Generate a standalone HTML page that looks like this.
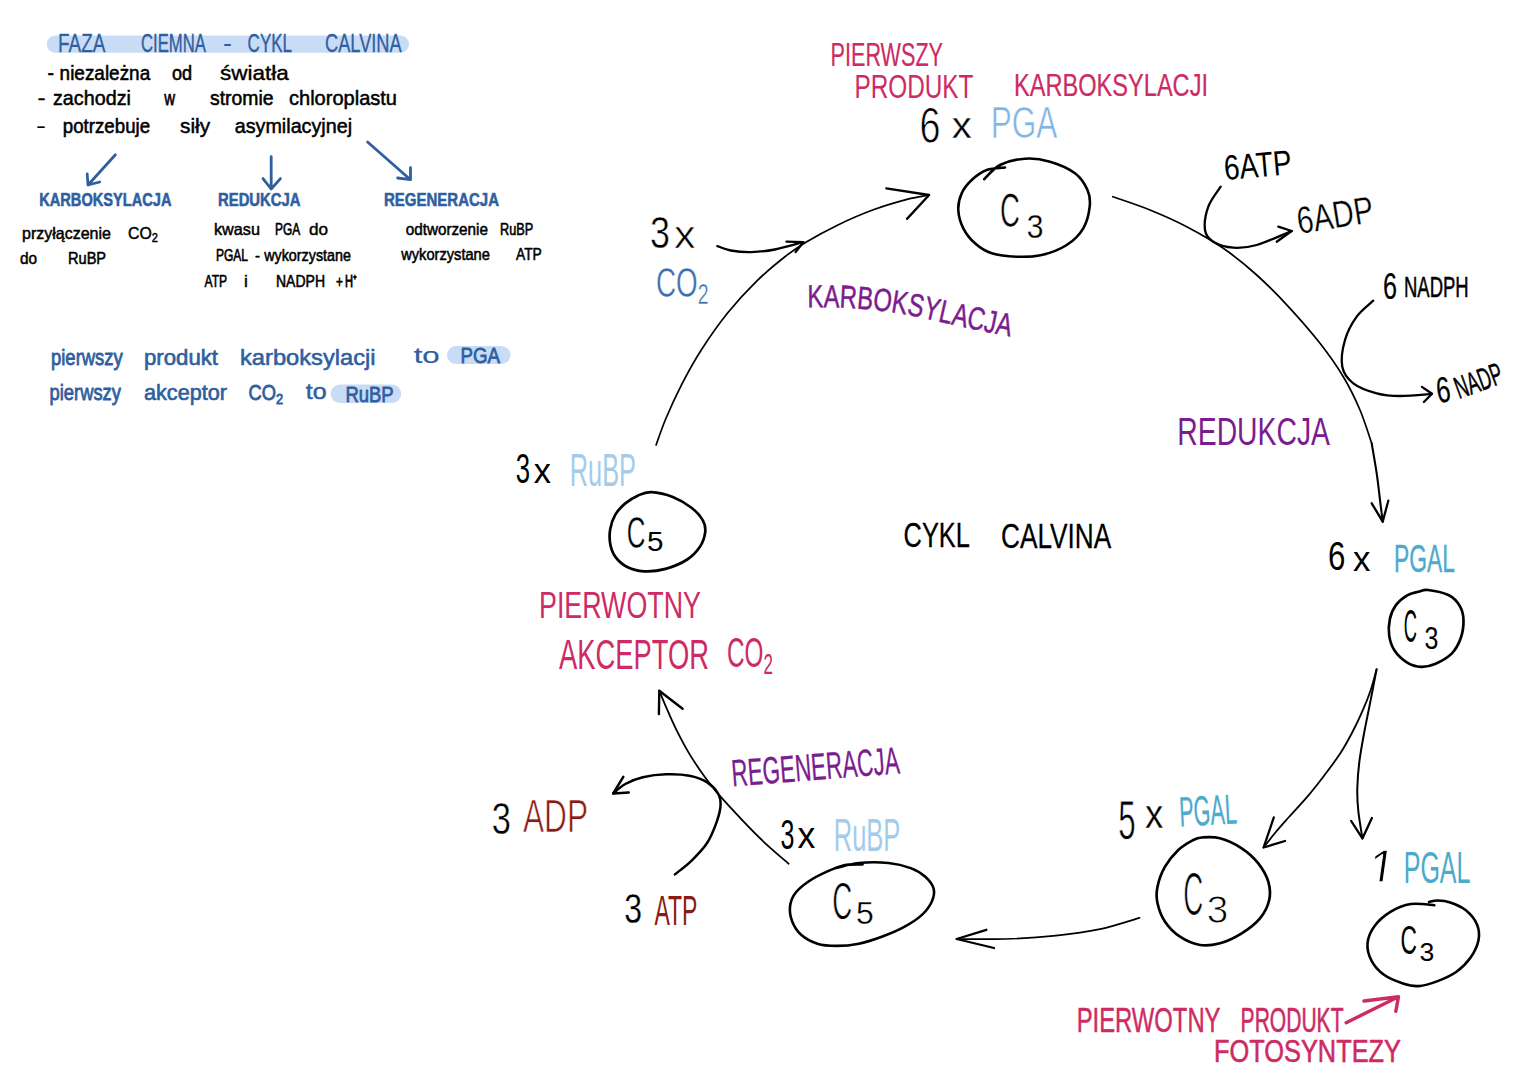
<!DOCTYPE html>
<html lang="pl"><head><meta charset="utf-8"><title>Faza ciemna - cykl Calvina</title>
<style>
html,body{margin:0;padding:0;background:#fff;}
body{width:1528px;height:1080px;overflow:hidden;}
svg{display:block;font-family:"Liberation Sans",sans-serif;}
svg path{fill:none;stroke-linecap:round;stroke-linejoin:round;}
svg text{stroke-linejoin:round;}
</style></head><body>
<svg width="1528" height="1080" viewBox="0 0 1528 1080">
<rect x="46.8" y="35.5" width="362.2" height="17.3" rx="8.6" fill="#c9dcf5"/>
<text x="58.0" y="52.0" font-size="25.5" fill="#2f5f9f" textLength="47.5" lengthAdjust="spacingAndGlyphs" stroke="#2f5f9f" stroke-width="0.28">FAZA</text>
<text x="141.0" y="52.0" font-size="25.5" fill="#2f5f9f" textLength="64.9" lengthAdjust="spacingAndGlyphs" stroke="#2f5f9f" stroke-width="0.39">CIEMNA</text>
<text x="223.0" y="52.0" font-size="25.5" fill="#2f5f9f" textLength="9.0" lengthAdjust="spacingAndGlyphs">-</text>
<text x="247.6" y="52.0" font-size="25.5" fill="#2f5f9f" textLength="44.5" lengthAdjust="spacingAndGlyphs" stroke="#2f5f9f" stroke-width="0.37">CYKL</text>
<text x="325.0" y="52.0" font-size="25.5" fill="#2f5f9f" textLength="76.7" lengthAdjust="spacingAndGlyphs" stroke="#2f5f9f" stroke-width="0.32">CALVINA</text>
<text x="47.5" y="80.0" font-size="21" fill="#000" textLength="6.5" lengthAdjust="spacingAndGlyphs" stroke="#000" stroke-width="0.54">-</text>
<text x="59.6" y="80.0" font-size="21" fill="#000" textLength="90.6" lengthAdjust="spacingAndGlyphs" stroke="#000" stroke-width="0.57">niezależna</text>
<text x="172.0" y="80.0" font-size="21" fill="#000" textLength="20.1" lengthAdjust="spacingAndGlyphs" stroke="#000" stroke-width="0.61">od</text>
<text x="220.0" y="80.0" font-size="21" fill="#000" textLength="68.9" lengthAdjust="spacingAndGlyphs" stroke="#000" stroke-width="0.40">światła</text>
<text x="37.4" y="105.0" font-size="21" fill="#000" textLength="8.1" lengthAdjust="spacingAndGlyphs" stroke="#000" stroke-width="0.32">-</text>
<text x="53.0" y="105.0" font-size="21" fill="#000" textLength="77.9" lengthAdjust="spacingAndGlyphs" stroke="#000" stroke-width="0.53">zachodzi</text>
<text x="164.2" y="105.0" font-size="21" fill="#000" textLength="10.8" lengthAdjust="spacingAndGlyphs" stroke="#000" stroke-width="0.75">w</text>
<text x="210.0" y="105.0" font-size="21" fill="#000" textLength="63.6" lengthAdjust="spacingAndGlyphs" stroke="#000" stroke-width="0.55">stromie</text>
<text x="289.0" y="105.0" font-size="21" fill="#000" textLength="108.0" lengthAdjust="spacingAndGlyphs" stroke="#000" stroke-width="0.52">chloroplastu</text>
<text x="36.0" y="133.3" font-size="21" fill="#000" textLength="10.0" lengthAdjust="spacingAndGlyphs">-</text>
<text x="62.8" y="133.3" font-size="21" fill="#000" textLength="87.3" lengthAdjust="spacingAndGlyphs" stroke="#000" stroke-width="0.58">potrzebuje</text>
<text x="180.0" y="133.3" font-size="21" fill="#000" textLength="30.1" lengthAdjust="spacingAndGlyphs" stroke="#000" stroke-width="0.48">siły</text>
<text x="234.7" y="133.3" font-size="21" fill="#000" textLength="117.4" lengthAdjust="spacingAndGlyphs" stroke="#000" stroke-width="0.53">asymilacyjnej</text>
<path d="M115.4 154.8 L88 185 M87.2 174 L88 185 L99.7 182" stroke="#2f5f9f" stroke-width="2.8"/>
<path d="M271.2 156.6 L271.2 189 M263 178.6 L271.2 189 L280.4 178.6" stroke="#2f5f9f" stroke-width="2.8"/>
<path d="M367.6 142 L410.5 179.7 M410.5 167.6 L410.5 179.7 L397.6 178" stroke="#2f5f9f" stroke-width="2.8"/>
<text x="39.2" y="206.0" font-size="18" fill="#2f5f9f" textLength="132.3" lengthAdjust="spacingAndGlyphs" font-weight="bold" stroke="#2f5f9f" stroke-width="0.58">KARBOKSYLACJA</text>
<text x="218.0" y="206.0" font-size="18" fill="#2f5f9f" textLength="82.5" lengthAdjust="spacingAndGlyphs" font-weight="bold" stroke="#2f5f9f" stroke-width="0.56">REDUKCJA</text>
<text x="384.0" y="206.0" font-size="18" fill="#2f5f9f" textLength="115.0" lengthAdjust="spacingAndGlyphs" font-weight="bold" stroke="#2f5f9f" stroke-width="0.55">REGENERACJA</text>
<text x="22.0" y="239.0" font-size="16.5" fill="#000" textLength="89.0" lengthAdjust="spacingAndGlyphs" stroke="#000" stroke-width="0.49">przyłączenie</text>
<text x="20.0" y="263.5" font-size="16.5" fill="#000" textLength="17.1" lengthAdjust="spacingAndGlyphs" stroke="#000" stroke-width="0.52">do</text>
<text x="68.0" y="263.5" font-size="16.5" fill="#000" textLength="38.1" lengthAdjust="spacingAndGlyphs" stroke="#000" stroke-width="0.55">RuBP</text>
<text x="214.0" y="235.0" font-size="16.5" fill="#000" textLength="46.0" lengthAdjust="spacingAndGlyphs" stroke="#000" stroke-width="0.48">kwasu</text>
<text x="275.0" y="235.0" font-size="16.5" fill="#000" textLength="25.1" lengthAdjust="spacingAndGlyphs" stroke="#000" stroke-width="0.68">PGA</text>
<text x="309.0" y="235.0" font-size="16.5" fill="#000" textLength="19.1" lengthAdjust="spacingAndGlyphs" stroke="#000" stroke-width="0.43">do</text>
<text x="216.0" y="261.0" font-size="16.5" fill="#000" textLength="32.0" lengthAdjust="spacingAndGlyphs" stroke="#000" stroke-width="0.67">PGAL</text>
<text x="255.0" y="261.0" font-size="16.5" fill="#000" textLength="5.0" lengthAdjust="spacingAndGlyphs" stroke="#000" stroke-width="0.53">-</text>
<text x="264.2" y="261.0" font-size="16.5" fill="#000" textLength="86.7" lengthAdjust="spacingAndGlyphs" stroke="#000" stroke-width="0.56">wykorzystane</text>
<text x="204.5" y="286.5" font-size="16.5" fill="#000" textLength="22.6" lengthAdjust="spacingAndGlyphs" stroke="#000" stroke-width="0.67">ATP</text>
<text x="244.0" y="286.5" font-size="16.5" fill="#000" textLength="3.9" lengthAdjust="spacingAndGlyphs" stroke="#000" stroke-width="0.41">i</text>
<text x="276.0" y="286.5" font-size="16.5" fill="#000" textLength="49.0" lengthAdjust="spacingAndGlyphs" stroke="#000" stroke-width="0.58">NADPH</text>
<text x="336.0" y="286.5" font-size="16.5" fill="#000" textLength="6.9" lengthAdjust="spacingAndGlyphs" stroke="#000" stroke-width="0.68">+</text>
<text x="345.0" y="286.5" font-size="16.5" fill="#000" textLength="12.0" lengthAdjust="spacingAndGlyphs" stroke="#000" stroke-width="0.85">H⁺</text>
<text x="405.7" y="235.0" font-size="16.5" fill="#000" textLength="82.3" lengthAdjust="spacingAndGlyphs" stroke="#000" stroke-width="0.52">odtworzenie</text>
<text x="500.0" y="235.0" font-size="16.5" fill="#000" textLength="33.1" lengthAdjust="spacingAndGlyphs" stroke="#000" stroke-width="0.64">RuBP</text>
<text x="401.2" y="259.5" font-size="16.5" fill="#000" textLength="88.7" lengthAdjust="spacingAndGlyphs" stroke="#000" stroke-width="0.55">wykorzystane</text>
<text x="516.0" y="259.5" font-size="16.5" fill="#000" textLength="25.8" lengthAdjust="spacingAndGlyphs" stroke="#000" stroke-width="0.59">ATP</text>
<text x="128.0" y="239.0" font-size="17" fill="#000" textLength="29.9" lengthAdjust="spacingAndGlyphs" stroke="#000" stroke-width="0.48">CO<tspan dy="2.7" font-size="11.9">2</tspan></text>
<rect x="447" y="346" width="63.5" height="18.0" rx="9.0" fill="#c9dcf5"/>
<rect x="330.6" y="384.6" width="70.7" height="18.4" rx="9.2" fill="#c9dcf5"/>
<text x="51.0" y="364.5" font-size="22.5" fill="#2f5f9f" textLength="71.8" lengthAdjust="spacingAndGlyphs" stroke="#2f5f9f" stroke-width="0.83">pierwszy</text>
<text x="144.0" y="364.5" font-size="22.5" fill="#2f5f9f" textLength="74.0" lengthAdjust="spacingAndGlyphs" stroke="#2f5f9f" stroke-width="0.66">produkt</text>
<text x="240.0" y="364.5" font-size="22.5" fill="#2f5f9f" textLength="135.6" lengthAdjust="spacingAndGlyphs" stroke="#2f5f9f" stroke-width="0.59">karboksylacji</text>
<text x="413.7" y="362.5" font-size="22.5" fill="#2f5f9f" textLength="26.0" lengthAdjust="spacingAndGlyphs" stroke="#2f5f9f" stroke-width="0.24">to</text>
<text x="460.5" y="362.5" font-size="22.5" fill="#2f5f9f" textLength="39.5" lengthAdjust="spacingAndGlyphs" stroke="#2f5f9f" stroke-width="0.82">PGA</text>
<text x="49.5" y="399.5" font-size="22.5" fill="#2f5f9f" textLength="71.5" lengthAdjust="spacingAndGlyphs" stroke="#2f5f9f" stroke-width="0.83">pierwszy</text>
<text x="144.0" y="399.5" font-size="22.5" fill="#2f5f9f" textLength="83.0" lengthAdjust="spacingAndGlyphs" stroke="#2f5f9f" stroke-width="0.68">akceptor</text>
<text x="305.8" y="398.5" font-size="22.5" fill="#2f5f9f" textLength="20.8" lengthAdjust="spacingAndGlyphs" stroke="#2f5f9f" stroke-width="0.53">to</text>
<text x="345.4" y="401.7" font-size="22.5" fill="#2f5f9f" textLength="48.2" lengthAdjust="spacingAndGlyphs" stroke="#2f5f9f" stroke-width="0.83">RuBP</text>
<text x="248.5" y="400.0" font-size="22" fill="#2f5f9f" textLength="34.6" lengthAdjust="spacingAndGlyphs" stroke="#2f5f9f" stroke-width="0.86">CO<tspan dy="3.5" font-size="15.4">2</tspan></text>
<text x="830.6" y="66.0" font-size="34" fill="#cd2b63" textLength="112.4" lengthAdjust="spacingAndGlyphs" stroke="#cd2b63" stroke-width="0.21">PIERWSZY</text>
<text x="854.4" y="97.5" font-size="34" fill="#cd2b63" textLength="119.1" lengthAdjust="spacingAndGlyphs">PRODUKT</text>
<text x="1014.0" y="96.0" font-size="31" fill="#cd2b63" textLength="194.0" lengthAdjust="spacingAndGlyphs" stroke="#cd2b63" stroke-width="0.24">KARBOKSYLACJI</text>
<text x="919.5" y="143.3" font-size="50" fill="#000" textLength="21.0" lengthAdjust="spacingAndGlyphs" stroke="#fff" stroke-width="0.81">6</text>
<text x="951.7" y="138.3" font-size="37" fill="#000" textLength="20.0" lengthAdjust="spacingAndGlyphs" stroke="#fff" stroke-width="0.36">x</text>
<text x="990.8" y="138.3" font-size="44" fill="#7fb4e6" textLength="66.6" lengthAdjust="spacingAndGlyphs" stroke="#fff" stroke-width="0.66">PGA</text>
<path d="M984.2 179.2 C986.8 176.8 993.2 168.4 1000.0 165.0 C1006.8 161.6 1016.7 159.2 1025.0 158.7 C1033.3 158.1 1041.7 159.3 1050.0 161.7 C1058.3 164.1 1068.8 168.6 1075.0 173.3 C1081.2 178.0 1085.0 184.4 1087.5 190.0 C1090.0 195.6 1090.4 200.3 1089.7 206.7 C1089.0 213.1 1087.1 221.9 1083.3 228.3 C1079.5 234.7 1073.6 240.6 1066.7 245.0 C1059.8 249.4 1050.0 253.1 1041.7 255.0 C1033.4 256.9 1025.0 257.0 1016.7 256.7 C1008.4 256.4 998.7 255.5 991.7 253.3 C984.8 251.1 979.7 247.5 975.0 243.3 C970.3 239.1 966.1 233.9 963.3 228.3 C960.5 222.8 958.6 215.8 958.3 210.0 C958.0 204.2 959.5 198.3 961.7 193.3 C963.9 188.3 967.5 183.9 971.7 180.0 C975.9 176.1 981.2 172.1 986.7 170.0 C992.2 167.9 1002.0 167.9 1005.0 167.5" stroke="#000" stroke-width="2.6"/>
<text x="1000.0" y="226.7" font-size="49" fill="#000" textLength="19.9" lengthAdjust="spacingAndGlyphs" stroke="#fff" stroke-width="0.68">C</text>
<text x="1026.7" y="237.5" font-size="33" fill="#000" textLength="16.7" lengthAdjust="spacingAndGlyphs" stroke="#fff" stroke-width="0.26">3</text>
<path d="M656.1 445.0 C657.7 440.6 661.7 428.5 665.9 418.5 C670.1 408.5 675.5 396.5 681.5 384.8 C687.5 373.1 694.4 360.6 702.2 348.5 C710.0 336.4 719.1 323.4 728.2 312.2 C737.3 301.0 747.2 290.4 756.7 281.1 C766.2 271.8 777.0 263.0 785.2 256.5 C793.4 250.0 797.3 247.4 805.9 242.2 C814.5 237.0 825.8 230.8 837.0 225.4 C848.2 220.0 861.6 214.1 873.3 209.8 C885.0 205.5 897.7 201.9 907.0 199.4 C916.3 196.9 925.4 195.7 929.1 195.0" stroke="#000" stroke-width="1.7"/>
<path d="M886.3 188.3 L929.1 195 L907 218.9" stroke="#000" stroke-width="2.3"/>
<text x="650.0" y="248.0" font-size="44" fill="#000" textLength="20.0" lengthAdjust="spacingAndGlyphs" stroke="#fff" stroke-width="0.51">3</text>
<text x="674.0" y="248.0" font-size="38" fill="#000" textLength="21.5" lengthAdjust="spacingAndGlyphs" stroke="#fff" stroke-width="0.54">x</text>
<text x="656.0" y="297.0" font-size="43" fill="#3a70ad" textLength="52.6" lengthAdjust="spacingAndGlyphs" stroke="#fff" stroke-width="0.44">CO<tspan dy="6.9" font-size="30.1">2</tspan></text>
<path d="M717.3 246.1 C719.5 246.8 725.0 249.5 730.7 250.5 C736.4 251.5 744.1 252.3 751.5 252.1 C758.9 251.9 766.2 251.2 774.8 249.5 C783.4 247.8 798.5 243.4 803.3 242.2" stroke="#000" stroke-width="2.3"/>
<path d="M786.5 241.7 L803.3 242.2 L795.6 252" stroke="#000" stroke-width="2.3"/>
<defs><path id="kp" d="M807.5 307.3 Q870 306 925 318.5 T1012 337"/></defs>
<text font-size="32" fill="#7b1d8e" stroke="#7b1d8e" stroke-width="0.5"><textPath href="#kp" textLength="205" lengthAdjust="spacingAndGlyphs">KARBOKSYLACJA</textPath></text>
<path d="M1112.7 196.7 C1118.9 198.9 1137.7 205.0 1150.0 210.0 C1162.3 215.0 1174.5 220.3 1186.7 226.7 C1198.9 233.1 1211.6 240.2 1223.3 248.3 C1235.0 256.4 1245.6 265.0 1256.7 275.0 C1267.8 285.0 1279.5 296.9 1290.0 308.3 C1300.5 319.7 1311.1 331.9 1320.0 343.3 C1328.9 354.7 1336.6 365.6 1343.3 376.7 C1350.0 387.8 1355.3 398.9 1360.0 410.0 C1364.7 421.1 1369.8 437.8 1371.7 443.3" stroke="#000" stroke-width="1.7"/>
<path d="M1371.7 443.3 C1372.5 448.3 1375.3 463.9 1376.7 473.3 C1378.1 482.8 1379.0 491.9 1380.0 500.0 C1381.0 508.1 1382.2 518.1 1382.7 521.7" stroke="#000" stroke-width="2.1"/>
<path d="M1371.7 503.3 L1382.7 521.7 L1388.3 500.7" stroke="#000" stroke-width="2.3"/>
<text x="1225.0" y="180.0" font-size="35" fill="#000" textLength="67.9" lengthAdjust="spacingAndGlyphs" transform="rotate(-5 1225.0 180.0)">6ATP</text>
<path d="M1220.7 186.7 C1218.6 190.0 1210.9 199.5 1208.3 206.7 C1205.7 213.9 1204.2 224.2 1205.0 230.0 C1205.8 235.8 1208.6 238.8 1213.3 241.7 C1218.0 244.6 1226.1 247.1 1233.3 247.7 C1240.5 248.2 1247.0 247.8 1256.7 245.0 C1266.4 242.2 1285.9 233.3 1291.7 231.0" stroke="#000" stroke-width="2.3"/>
<path d="M1278.3 226.7 L1291.7 231 L1276.7 241.7" stroke="#000" stroke-width="2.3"/>
<text x="1299.0" y="234.0" font-size="38" fill="#000" textLength="77.0" lengthAdjust="spacingAndGlyphs" stroke="#fff" stroke-width="0.31" transform="rotate(-9 1299.0 234.0)">6ADP</text>
<text x="1383.0" y="298.5" font-size="36" fill="#000" textLength="14.0" lengthAdjust="spacingAndGlyphs" stroke="#000" stroke-width="0.23">6</text>
<text x="1404.0" y="297.0" font-size="30" fill="#000" textLength="64.7" lengthAdjust="spacingAndGlyphs" stroke="#000" stroke-width="0.52">NADPH</text>
<path d="M1373.3 300.7 C1370.5 303.4 1361.4 310.1 1356.7 316.7 C1352.0 323.2 1347.4 331.7 1345.0 340.0 C1342.6 348.3 1340.9 359.5 1342.3 366.7 C1343.7 373.9 1347.6 378.9 1353.3 383.3 C1359.0 387.7 1368.9 391.2 1376.7 393.3 C1384.5 395.4 1390.8 395.9 1400.0 396.0 C1409.2 396.1 1426.7 394.2 1432.0 393.8" stroke="#000" stroke-width="2.3"/>
<path d="M1421.9 386.9 L1432 393.8 L1423.9 402" stroke="#000" stroke-width="2.3"/>
<text x="1438.0" y="403.0" font-size="36" fill="#000" textLength="14.0" lengthAdjust="spacingAndGlyphs" stroke="#000" stroke-width="0.23" transform="rotate(-8 1438.0 403.0)">6</text>
<text x="1459.0" y="399.0" font-size="31" fill="#000" textLength="48.9" lengthAdjust="spacingAndGlyphs" stroke="#000" stroke-width="0.52" transform="rotate(-20 1459.0 399.0)">NADP</text>
<text x="1177.3" y="445.0" font-size="39" fill="#7b1d8e" textLength="152.7" lengthAdjust="spacingAndGlyphs">REDUKCJA</text>
<text x="903.6" y="547.0" font-size="35" fill="#000" textLength="66.3" lengthAdjust="spacingAndGlyphs" stroke="#000" stroke-width="0.30">CYKL</text>
<text x="1001.0" y="547.5" font-size="35" fill="#000" textLength="110.2" lengthAdjust="spacingAndGlyphs" stroke="#000" stroke-width="0.26">CALVINA</text>
<text x="1328.0" y="570.3" font-size="40" fill="#000" textLength="17.4" lengthAdjust="spacingAndGlyphs">6</text>
<text x="1353.0" y="571.0" font-size="35" fill="#000" textLength="17.4" lengthAdjust="spacingAndGlyphs">x</text>
<text x="1394.0" y="571.5" font-size="38" fill="#4cabcd" textLength="60.9" lengthAdjust="spacingAndGlyphs" stroke="#4cabcd" stroke-width="0.39">PGAL</text>
<path d="M1428.0 590.0 C1433.1 590.6 1443.6 592.6 1448.9 595.3 C1454.2 598.0 1457.6 602.2 1460.0 606.4 C1462.4 610.6 1463.4 615.0 1463.5 620.3 C1463.6 625.6 1462.7 632.8 1460.7 638.3 C1458.7 643.8 1456.0 649.3 1451.7 653.6 C1447.4 657.9 1440.1 661.8 1435.0 664.0 C1429.9 666.2 1425.6 667.0 1421.0 666.8 C1416.4 666.6 1411.6 665.3 1407.2 662.6 C1402.8 659.9 1397.7 655.3 1394.7 650.8 C1391.7 646.3 1390.0 640.9 1389.2 635.6 C1388.4 630.3 1388.8 624.0 1389.9 618.9 C1391.0 613.8 1393.1 608.9 1396.0 605.0 C1398.9 601.1 1403.5 597.5 1407.2 595.3 C1410.9 593.1 1414.8 592.7 1418.3 591.8 C1421.8 590.9 1422.9 589.4 1428.0 590.0" stroke="#000" stroke-width="2.7"/>
<text x="1403.8" y="641.8" font-size="46" fill="#000" textLength="13.2" lengthAdjust="spacingAndGlyphs">C</text>
<text x="1424.6" y="649.4" font-size="32" fill="#000" textLength="13.9" lengthAdjust="spacingAndGlyphs">3</text>
<path d="M1376.6 669.3 C1375.6 672.9 1372.9 683.7 1370.5 690.7 C1368.1 697.7 1365.5 704.1 1362.4 711.1 C1359.4 718.1 1355.9 725.4 1352.2 732.5 C1348.5 739.6 1344.8 746.5 1340.0 753.8 C1335.2 761.1 1329.1 769.1 1323.7 776.2 C1318.3 783.3 1313.2 789.8 1307.4 796.6 C1301.6 803.4 1294.4 810.9 1289.0 817.0 C1283.6 823.1 1279.0 828.2 1274.8 833.3 C1270.6 838.4 1265.5 845.1 1263.6 847.5" stroke="#000" stroke-width="1.8"/>
<path d="M1273.8 817.4 L1263.6 847.5 L1285 841" stroke="#000" stroke-width="2.3"/>
<path d="M1376.6 669.3 C1375.6 674.6 1372.5 690.5 1370.5 700.9 C1368.5 711.3 1366.3 721.3 1364.4 731.5 C1362.5 741.7 1360.5 752.5 1359.3 762.0 C1358.1 771.5 1357.5 780.4 1357.3 788.5 C1357.1 796.6 1357.4 802.6 1358.3 810.9 C1359.2 819.2 1361.7 833.8 1362.4 838.4" stroke="#000" stroke-width="2.0"/>
<path d="M1351.2 821 L1362.4 838.4 L1371.9 818" stroke="#000" stroke-width="2.3"/>
<text x="1118.3" y="839.0" font-size="56" fill="#000" textLength="17.4" lengthAdjust="spacingAndGlyphs" stroke="#fff" stroke-width="0.76">5</text>
<text x="1145.0" y="828.3" font-size="40" fill="#000" textLength="18.3" lengthAdjust="spacingAndGlyphs" stroke="#fff" stroke-width="0.32">x</text>
<text x="1180.0" y="826.5" font-size="42" fill="#4cabcd" textLength="57.5" lengthAdjust="spacingAndGlyphs" stroke="#4cabcd" stroke-width="0.29" transform="rotate(-3 1180.0 826.5)">PGAL</text>
<path d="M1201.7 837.5 C1206.2 837.2 1213.3 836.5 1220.0 838.3 C1226.7 840.1 1235.3 844.1 1241.7 848.3 C1248.1 852.5 1253.9 857.7 1258.3 863.3 C1262.7 868.9 1266.5 875.6 1268.3 881.7 C1270.1 887.8 1270.6 893.9 1269.2 900.0 C1267.8 906.1 1264.6 912.8 1260.0 918.3 C1255.4 923.8 1248.4 929.1 1241.7 933.3 C1235.0 937.5 1227.0 941.3 1220.0 943.3 C1213.0 945.2 1206.7 946.1 1200.0 945.0 C1193.3 943.9 1185.8 940.6 1180.0 936.7 C1174.2 932.8 1168.8 927.3 1165.0 921.7 C1161.2 916.1 1158.8 909.1 1157.5 903.3 C1156.2 897.5 1156.2 892.8 1157.5 886.7 C1158.8 880.6 1161.5 872.8 1165.0 866.7 C1168.5 860.6 1173.6 854.5 1178.3 850.0 C1183.0 845.5 1189.4 842.1 1193.3 840.0 C1197.2 837.9 1197.2 837.8 1201.7 837.5" stroke="#000" stroke-width="2.7"/>
<text x="1183.3" y="915.0" font-size="61" fill="#000" textLength="20.0" lengthAdjust="spacingAndGlyphs" stroke="#fff" stroke-width="1.18">C</text>
<text x="1206.7" y="923.3" font-size="39" fill="#000" textLength="21.5" lengthAdjust="spacingAndGlyphs" stroke="#fff" stroke-width="0.84">3</text>
<path d="M1139.5 917.9 C1132.9 919.8 1113.9 926.2 1100.0 929.2 C1086.1 932.2 1071.8 934.1 1056.0 935.7 C1040.2 937.3 1021.6 938.5 1005.0 939.0 C988.4 939.5 964.7 939.0 956.6 939.0" stroke="#000" stroke-width="1.7"/>
<path d="M986.4 929.8 L956.6 939 L994 948" stroke="#000" stroke-width="2.3"/>
<clipPath id="c1"><rect x="1340" y="830" width="80" height="51.3"/></clipPath>
<g clip-path="url(#c1)"><text x="1366" y="886" font-size="52" textLength="27" lengthAdjust="spacingAndGlyphs" stroke="#fff" stroke-width="1.2" transform="translate(1372 886) skewX(-8) translate(-1372 -886)">1</text></g>
<text x="1403.7" y="882.7" font-size="44" fill="#4cabcd" textLength="66.8" lengthAdjust="spacingAndGlyphs">PGAL</text>
<path d="M1434.4 905.2 C1430.5 905.0 1418.1 902.9 1410.8 904.0 C1403.5 905.1 1396.4 908.2 1390.4 911.9 C1384.4 915.6 1378.4 920.8 1374.6 926.0 C1370.8 931.2 1368.0 937.5 1367.5 943.3 C1367.0 949.1 1368.8 955.4 1371.5 960.6 C1374.2 965.9 1378.8 971.0 1384.0 974.8 C1389.2 978.6 1397.2 981.6 1403.0 983.5 C1408.8 985.4 1412.9 986.5 1418.7 986.1 C1424.5 985.7 1431.3 983.5 1437.6 981.1 C1443.9 978.7 1451.0 975.6 1456.5 971.7 C1462.0 967.8 1466.9 962.8 1470.6 957.5 C1474.3 952.2 1477.4 945.7 1478.5 940.2 C1479.6 934.7 1479.1 929.4 1477.0 924.4 C1474.9 919.4 1470.4 914.0 1465.9 910.3 C1461.4 906.6 1454.9 904.0 1450.2 902.4 C1445.5 900.8 1441.1 900.6 1437.6 900.5 C1434.1 900.4 1430.4 901.8 1429.0 902.0" stroke="#000" stroke-width="2.6"/>
<text x="1400.6" y="954.3" font-size="40" fill="#000" textLength="16.4" lengthAdjust="spacingAndGlyphs">C</text>
<text x="1419.5" y="960.6" font-size="25" fill="#000" textLength="14.8" lengthAdjust="spacingAndGlyphs">3</text>
<text x="1076.7" y="1031.5" font-size="35" fill="#cd2b63" textLength="143.8" lengthAdjust="spacingAndGlyphs" stroke="#cd2b63" stroke-width="0.47">PIERWOTNY</text>
<text x="1240.6" y="1031.5" font-size="35" fill="#cd2b63" textLength="102.9" lengthAdjust="spacingAndGlyphs" stroke="#cd2b63" stroke-width="0.60">PRODUKT</text>
<text x="1214.0" y="1062.0" font-size="31" fill="#cd2b63" textLength="187.0" lengthAdjust="spacingAndGlyphs" stroke="#cd2b63" stroke-width="0.56">FOTOSYNTEZY</text>
<path d="M1346.2 1022.7 L1398.5 996.8 M1364 1001 L1398.5 996.8 L1395.8 1011.4" stroke="#cd2b63" stroke-width="3.4"/>
<text x="780.4" y="849.0" font-size="43" fill="#000" textLength="13.9" lengthAdjust="spacingAndGlyphs">3</text>
<text x="797.4" y="848.1" font-size="36" fill="#000" textLength="17.8" lengthAdjust="spacingAndGlyphs">x</text>
<text x="833.7" y="851.0" font-size="47" fill="#a3cceb" textLength="66.7" lengthAdjust="spacingAndGlyphs">RuBP</text>
<path d="M835.9 868.1 C839.7 867.2 850.1 863.9 858.9 863.0 C867.7 862.1 879.9 862.1 888.5 863.0 C897.1 863.9 904.5 865.8 910.7 868.1 C916.9 870.4 921.8 873.5 925.6 877.0 C929.4 880.5 932.7 884.7 933.7 888.9 C934.7 893.1 933.6 897.8 931.5 902.2 C929.4 906.7 925.8 911.4 921.1 915.6 C916.4 919.8 910.0 923.8 903.3 927.4 C896.6 931.0 888.5 934.3 881.1 937.0 C873.7 939.7 866.3 942.2 858.9 943.7 C851.5 945.2 843.6 945.9 836.7 945.9 C829.8 945.9 823.3 945.6 817.4 943.7 C811.5 941.9 805.3 938.5 801.1 934.8 C796.9 931.1 794.1 926.2 792.2 921.5 C790.4 916.8 789.5 911.4 790.0 906.7 C790.5 902.0 792.1 897.5 795.2 893.3 C798.3 889.1 803.3 885.1 808.5 881.5 C813.7 877.9 820.4 874.6 826.3 871.9 C832.2 869.2 838.0 866.5 844.1 865.2 C850.2 864.0 859.5 864.5 862.6 864.4" stroke="#000" stroke-width="2.6"/>
<text x="832.2" y="919.3" font-size="52" fill="#000" textLength="20.0" lengthAdjust="spacingAndGlyphs" stroke="#fff" stroke-width="0.81">C</text>
<text x="855.9" y="924.4" font-size="32" fill="#000" textLength="17.8" lengthAdjust="spacingAndGlyphs" stroke="#fff" stroke-width="0.31">5</text>
<path d="M788.6 863.7 C784.7 860.3 772.8 850.3 765.3 843.3 C757.8 836.3 751.3 829.7 743.9 821.9 C736.5 814.1 727.1 804.2 720.6 796.7 C714.1 789.2 710.2 784.3 705.0 777.2 C699.8 770.1 694.3 762.0 689.4 753.9 C684.5 745.8 679.7 736.4 675.8 728.6 C671.9 720.8 668.9 713.5 666.1 707.2 C663.4 700.9 660.4 693.5 659.3 690.7" stroke="#000" stroke-width="1.8"/>
<path d="M658.9 714 L659.3 690.7 L682.6 708.8" stroke="#000" stroke-width="2.4"/>
<path d="M674.9 874.4 C677.6 872.1 686.1 866.0 691.4 860.8 C696.7 855.6 702.7 849.8 706.9 843.3 C711.1 836.8 714.4 828.4 716.7 821.9 C719.0 815.4 720.5 809.2 720.6 804.4 C720.8 799.5 719.9 796.5 717.6 792.8 C715.3 789.1 711.6 785.0 706.9 782.1 C702.2 779.2 696.2 777.0 689.4 775.7 C682.6 774.4 673.9 774.0 666.1 774.3 C658.3 774.5 649.6 775.6 642.8 777.2 C636.0 778.8 630.2 781.3 625.3 784.0 C620.4 786.7 615.2 791.8 613.2 793.4" stroke="#000" stroke-width="2.5"/>
<path d="M623.3 776.8 L613.2 793.4 L628.8 792.4" stroke="#000" stroke-width="2.5"/>
<text x="732.5" y="786.5" font-size="38" fill="#7b1d8e" textLength="168.4" lengthAdjust="spacingAndGlyphs" stroke="#7b1d8e" stroke-width="0.31" transform="rotate(-4.5 732.5 786.5)">REGENERACJA</text>
<text x="491.8" y="834.0" font-size="44" fill="#000" textLength="19.2" lengthAdjust="spacingAndGlyphs" stroke="#fff" stroke-width="0.45">3</text>
<text x="523.0" y="832.0" font-size="46" fill="#8a1b14" textLength="65.1" lengthAdjust="spacingAndGlyphs" stroke="#fff" stroke-width="0.74">ADP</text>
<text x="624.3" y="922.6" font-size="42" fill="#000" textLength="17.8" lengthAdjust="spacingAndGlyphs" stroke="#fff" stroke-width="0.27">3</text>
<text x="654.4" y="924.5" font-size="42" fill="#8a1b14" textLength="43.1" lengthAdjust="spacingAndGlyphs">ATP</text>
<text x="515.8" y="483.2" font-size="43" fill="#000" textLength="14.3" lengthAdjust="spacingAndGlyphs">3</text>
<text x="533.8" y="482.5" font-size="35" fill="#000" textLength="17.2" lengthAdjust="spacingAndGlyphs">x</text>
<text x="569.8" y="485.5" font-size="46" fill="#a3cceb" textLength="66.2" lengthAdjust="spacingAndGlyphs">RuBP</text>
<path d="M651.2 492.1 C657.0 492.4 666.1 494.3 672.8 496.9 C679.5 499.5 686.5 503.8 691.5 507.7 C696.5 511.6 700.7 516.5 703.0 520.6 C705.3 524.7 705.7 527.9 705.2 532.2 C704.7 536.5 703.1 542.0 700.1 546.5 C697.1 551.0 693.0 555.8 687.2 559.5 C681.5 563.2 672.8 566.9 665.6 568.9 C658.4 570.9 650.5 571.7 644.0 571.3 C637.5 570.9 631.5 569.2 626.7 566.7 C621.9 564.2 618.0 560.4 615.2 556.6 C612.5 552.8 611.0 548.2 610.2 543.7 C609.4 539.2 609.4 534.1 610.2 529.3 C611.0 524.5 612.7 519.2 615.2 514.9 C617.7 510.6 621.5 506.6 625.3 503.4 C629.1 500.1 633.9 497.3 638.2 495.4 C642.5 493.5 645.4 491.9 651.2 492.1" stroke="#000" stroke-width="2.7"/>
<text x="626.7" y="548.0" font-size="45" fill="#000" textLength="18.7" lengthAdjust="spacingAndGlyphs" stroke="#fff" stroke-width="0.44">C</text>
<text x="646.9" y="550.9" font-size="27" fill="#000" textLength="16.5" lengthAdjust="spacingAndGlyphs">5</text>
<text x="539.0" y="618.0" font-size="36" fill="#cd2b63" textLength="161.9" lengthAdjust="spacingAndGlyphs">PIERWOTNY</text>
<text x="559.0" y="669.0" font-size="42" fill="#cd2b63" textLength="150.0" lengthAdjust="spacingAndGlyphs">AKCEPTOR</text>
<text x="727.0" y="667.0" font-size="42" fill="#cd2b63" textLength="45.9" lengthAdjust="spacingAndGlyphs">CO<tspan dy="6.7" font-size="29.4">2</tspan></text>
</svg>
</body></html>
